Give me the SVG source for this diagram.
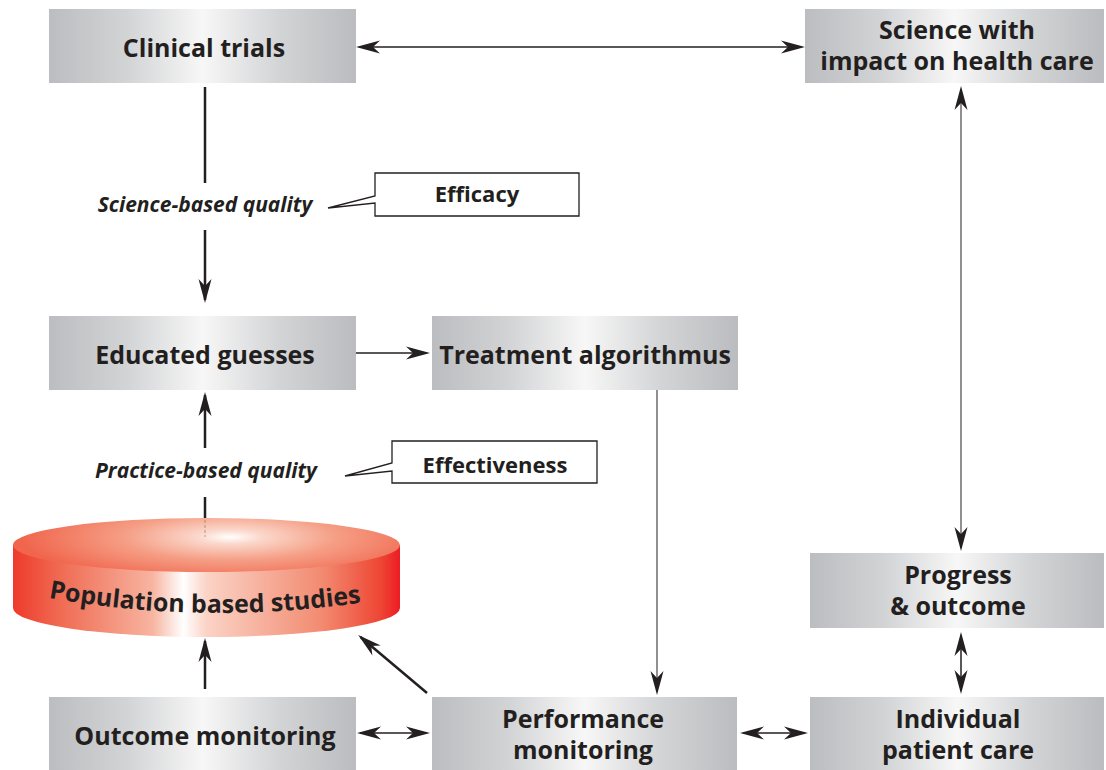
<svg xmlns="http://www.w3.org/2000/svg" width="1106" height="770" viewBox="0 0 1106 770">
  <style>
    .box { fill: url(#steel); }
    .lbl { font-family: "Open Sans", "Liberation Sans", sans-serif; font-weight: 700; font-size: 25px; fill: #231f20; text-anchor: middle; }
    .note { font-family: "Open Sans", "Liberation Sans", sans-serif; font-weight: 700; font-style: italic; font-size: 21px; fill: #231f20; text-anchor: middle; }
    .tag { font-family: "Open Sans", "Liberation Sans", sans-serif; font-weight: 700; font-size: 22px; fill: #231f20; text-anchor: middle; }
    .callout { fill: #ffffff; stroke: #231f20; stroke-width: 1.3; stroke-linejoin: miter; }
    .wire { fill: none; stroke: #231f20; }
    .thick { stroke-width: 2.5; }
    .mid { stroke-width: 1.5; }
    .thin { stroke-width: 1; }
  </style>
  <defs>
    <linearGradient id="steel" x1="0" y1="0" x2="1" y2="0">
      <stop offset="0" stop-color="#bcbdc0"/>
      <stop offset="0.25" stop-color="#d2d3d5"/>
      <stop offset="0.5" stop-color="#f7f7f7"/>
      <stop offset="0.75" stop-color="#d3d4d6"/>
      <stop offset="1" stop-color="#bbbcbf"/>
    </linearGradient>
    <linearGradient id="drumSide" x1="0" y1="0" x2="1" y2="0">
      <stop offset="0" stop-color="#ee3a2c"/>
      <stop offset="0.12" stop-color="#f06a52"/>
      <stop offset="0.36" stop-color="#f7b4a0"/>
      <stop offset="0.44" stop-color="#ffffff"/>
      <stop offset="0.5" stop-color="#fbd3c6"/>
      <stop offset="0.8" stop-color="#f28a70"/>
      <stop offset="0.95" stop-color="#ee4634"/>
      <stop offset="1" stop-color="#ec1c24"/>
    </linearGradient>
    <radialGradient id="drumTop" cx="230" cy="537" r="210" gradientUnits="userSpaceOnUse" gradientTransform="translate(230 537) scale(1 0.22) translate(-230 -537)">
      <stop offset="0" stop-color="#ffffff"/>
      <stop offset="0.15" stop-color="#fbd8cc"/>
      <stop offset="0.5" stop-color="#f59f86"/>
      <stop offset="1" stop-color="#f0654c"/>
    </radialGradient>
    <marker id="head" viewBox="-22 -8 26 16" refX="0" refY="0" markerWidth="26" markerHeight="16" markerUnits="userSpaceOnUse" orient="auto-start-reverse">
      <path d="M3,0 L-21,-6.5 L-14,0 L-21,6.5 Z" fill="#231f20"/>
    </marker>
  </defs>

  <!-- connectors -->
  <g id="connectors">
    <path class="wire mid" d="M359,47 H802" marker-start="url(#head)" marker-end="url(#head)"/>
    <path class="wire thick" d="M205,87 V183"/>
    <path class="wire thick" d="M205,230 V300" marker-end="url(#head)"/>
    <path class="wire mid" d="M356,353 H427" marker-end="url(#head)"/>
    <path class="wire thin" d="M657,390 V692" marker-end="url(#head)"/>
    <path class="wire thick" d="M205,448 V395" marker-end="url(#head)"/>
    <path class="wire thick" d="M205,497 V520"/>
    <path class="wire thick" d="M205,689 V641" marker-end="url(#head)"/>
    <path class="wire thick" d="M427,693 L360.5,637" marker-end="url(#head)"/>
    <path class="wire mid" d="M360,733 H427" marker-start="url(#head)" marker-end="url(#head)"/>
    <path class="wire mid" d="M743,733 H805" marker-start="url(#head)" marker-end="url(#head)"/>
    <path class="wire thin" d="M961,89 V548" marker-start="url(#head)" marker-end="url(#head)"/>
    <path class="wire mid" d="M961,635 V691" marker-start="url(#head)" marker-end="url(#head)"/>
  </g>

  <g id="clinical-trials">
    <rect class="box" x="49" y="9" width="307" height="74"/>
    <text class="lbl" x="204" y="57">Clinical trials</text>
  </g>

  <g id="science-impact">
    <rect class="box" x="805" y="9" width="299" height="74"/>
    <text class="lbl" x="957" y="39">Science with</text>
    <text class="lbl" x="957" y="70">impact on health care</text>
  </g>

  <g id="science-quality">
    <text class="note" x="205" y="212">Science-based quality</text>
  </g>

  <g id="efficacy">
    <path class="callout" d="M375,173 H579 V216 H375 V203 L328,208 L375,196 Z"/>
    <text class="tag" x="477" y="202">Efficacy</text>
  </g>

  <g id="educated-guesses">
    <rect class="box" x="49" y="316" width="307" height="74"/>
    <text class="lbl" x="205" y="364">Educated guesses</text>
  </g>

  <g id="treatment-algorithmus">
    <rect class="box" x="432" y="316" width="306" height="74"/>
    <text class="lbl" x="585" y="364">Treatment algorithmus</text>
  </g>

  <g id="practice-quality">
    <text class="note" x="206" y="478">Practice-based quality</text>
  </g>

  <g id="effectiveness">
    <path class="callout" d="M392,441 H597 V483 H392 V471 L345,476 L392,463 Z"/>
    <text class="tag" x="495" y="473">Effectiveness</text>
  </g>

  <g id="population-studies">
    <path d="M13,545 V608 A193.5,29 0 0 0 400,608 V545 Z" fill="url(#drumSide)"/>
    <ellipse cx="206.5" cy="545" rx="193.5" ry="27" fill="url(#drumTop)"/>
    <path d="M205,520 V537" stroke="#8a6a62" stroke-width="0.6" stroke-dasharray="3 2" fill="none"/>
    <path id="drumBaseline" d="M44,597 Q200,626 366,602" fill="none"/>
    <text class="lbl" font-size="26"><textPath href="#drumBaseline" startOffset="50%">Population based studies</textPath></text>
  </g>

  <g id="progress-outcome">
    <rect class="box" x="810" y="553" width="294" height="75"/>
    <text class="lbl" x="958" y="584">Progress</text>
    <text class="lbl" x="958" y="615">&amp; outcome</text>
  </g>

  <g id="outcome-monitoring">
    <rect class="box" x="49" y="697" width="307" height="73"/>
    <text class="lbl" x="205" y="745">Outcome monitoring</text>
  </g>

  <g id="performance-monitoring">
    <rect class="box" x="432" y="697" width="305" height="73"/>
    <text class="lbl" x="583" y="728">Performance</text>
    <text class="lbl" x="583" y="759">monitoring</text>
  </g>

  <g id="individual-care">
    <rect class="box" x="810" y="697" width="294" height="73"/>
    <text class="lbl" x="958" y="728">Individual</text>
    <text class="lbl" x="958" y="759">patient care</text>
  </g>
</svg>
